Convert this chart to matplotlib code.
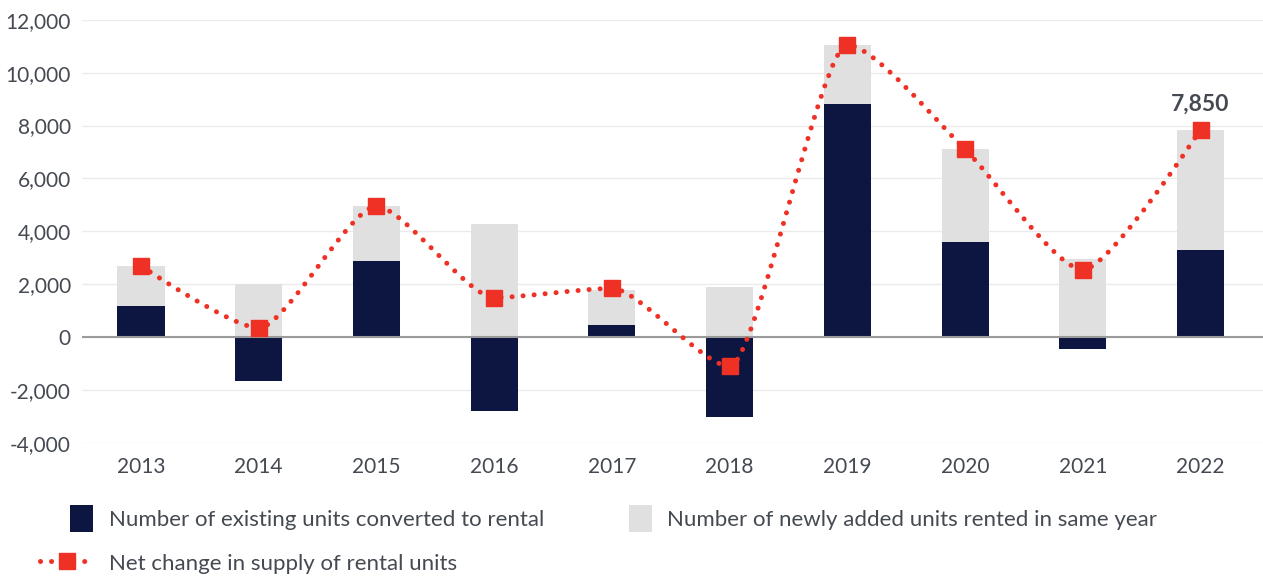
import numpy as np
import matplotlib
matplotlib.use("Agg")
import matplotlib.pyplot as plt
from matplotlib.path import Path
from matplotlib.patches import PathPatch, Patch, Rectangle
from matplotlib.lines import Line2D
from matplotlib.legend_handler import HandlerPatch
from matplotlib.ticker import FuncFormatter

years = ["2013", "2014", "2015", "2016", "2017", "2018", "2019", "2020", "2021", "2022"]
converted = [1200, -1650, 2900, -2800, 450, -3000, 8800, 3600, -450, 3300]
newly_added = [1480, 2000, 2050, 4280, 1350, 1900, 2250, 3500, 2950, 4550]
net_change = [2700, 350, 4950, 1500, 1850, -1100, 11050, 7100, 2550, 7850]

NAVY = "#0c1640"
GREY = "#e0e0e0"
RED = "#ee3124"
TEXT = "#454a52"

plt.rcParams["font.family"] = ["Lato", "DejaVu Sans"]


def spline_path(xs, ys, smoothing=3.5):
    # bezier through the points, similar to a highcharts spline
    denom = smoothing + 1
    verts = [(xs[0], ys[0])]
    codes = [Path.MOVETO]
    ctrl = []
    n = len(xs)
    for i in range(n):
        if i == 0 or i == n - 1:
            ctrl.append(((xs[i], ys[i]), (xs[i], ys[i])))
            continue
        lx = (smoothing * xs[i] + xs[i - 1]) / denom
        ly = (smoothing * ys[i] + ys[i - 1]) / denom
        rx = (smoothing * xs[i] + xs[i + 1]) / denom
        ry = (smoothing * ys[i] + ys[i + 1]) / denom
        corr = (ry - ly) * (rx - xs[i]) / (rx - lx) + ys[i] - ry
        ly += corr
        ry += corr
        if ly > ys[i - 1] and ly > ys[i]:
            ly = max(ys[i - 1], ys[i]); ry = 2 * ys[i] - ly
        elif ly < ys[i - 1] and ly < ys[i]:
            ly = min(ys[i - 1], ys[i]); ry = 2 * ys[i] - ly
        if ry > ys[i + 1] and ry > ys[i]:
            ry = max(ys[i + 1], ys[i]); ly = 2 * ys[i] - ry
        elif ry < ys[i + 1] and ry < ys[i]:
            ry = min(ys[i + 1], ys[i]); ly = 2 * ys[i] - ry
        ctrl.append(((lx, ly), (rx, ry)))
    for i in range(1, n):
        verts += [ctrl[i - 1][1], ctrl[i][0], (xs[i], ys[i])]
        codes += [Path.CURVE4] * 3
    return Path(verts, codes)


def small_square(legend, orig_handle, xdescent, ydescent, width, height, fontsize):
    rw, rh = 16.5, 19
    return Rectangle((-xdescent + width - rw - 1, -ydescent + height / 2 - rh / 2), rw, rh)


fig = plt.figure(figsize=(12.63, 5.8), dpi=100)
ax = fig.add_axes([0.065, 0.236, 0.935, 0.73])

x = np.arange(len(years))
bar_w = 0.4
conv = np.array(converted)
new = np.array(newly_added)
new_bottom = np.where(conv > 0, conv, 0)

ax.bar(x, conv, width=bar_w, color=NAVY, zorder=2)
ax.bar(x, new, bottom=new_bottom, width=bar_w, color=GREY, zorder=2)

path = spline_path(x.astype(float), np.array(net_change, dtype=float))
ax.add_patch(PathPatch(path, fill=False, edgecolor=RED, linewidth=3.6,
                       linestyle=(0, (0.01, 2.2)), capstyle="round", zorder=3))
ax.plot(x, net_change, linestyle="none", marker="s", markersize=11.5,
        color=RED, zorder=4)

ax.annotate("7,850", (x[-1], net_change[-1]), xytext=(0, 11),
            textcoords="offset points", ha="center", va="bottom",
            fontsize=16.5, fontweight="bold", color=TEXT)

ax.set_xlim(-0.5, 9.53)
ax.set_ylim(-4000, 12000)
ax.set_yticks(range(-4000, 12001, 2000))
ax.yaxis.set_major_formatter(FuncFormatter(lambda v, p: f"{int(v):,}"))
ax.set_xticks(x)
ax.set_xticklabels(years)
ax.grid(axis="y", color="#ebebeb", linewidth=1, zorder=0)
ax.axhline(0, color="#9a9a9a", linewidth=1.5, zorder=2.5)
for s in ax.spines.values():
    s.set_visible(False)
ax.tick_params(length=0, labelsize=15, colors=TEXT, pad=10)
ax.tick_params(axis="y", pad=8)

handles = [
    Patch(facecolor=NAVY, label="Number of existing units converted to rental"),
    Line2D([0], [0], color=RED, linewidth=3.6, linestyle=(0, (0.01, 2.2)),
           dash_capstyle="round", marker="s", markersize=11.5,
           label="Net change in supply of rental units"),
    Patch(facecolor=GREY, label="Number of newly added units rented in same year"),
]
fig.legend(handles=handles, loc="upper left", bbox_to_anchor=(40 / 1263, 1 - 507 / 580),
           ncol=2, frameon=False, fontsize=16, labelcolor=TEXT,
           handler_map={Patch: HandlerPatch(patch_func=small_square)},
           handlelength=2.45, handleheight=1.2, handletextpad=0.65,
           columnspacing=2.45, labelspacing=0.97, borderpad=0, borderaxespad=0)

fig.savefig("out.png", dpi=100)
